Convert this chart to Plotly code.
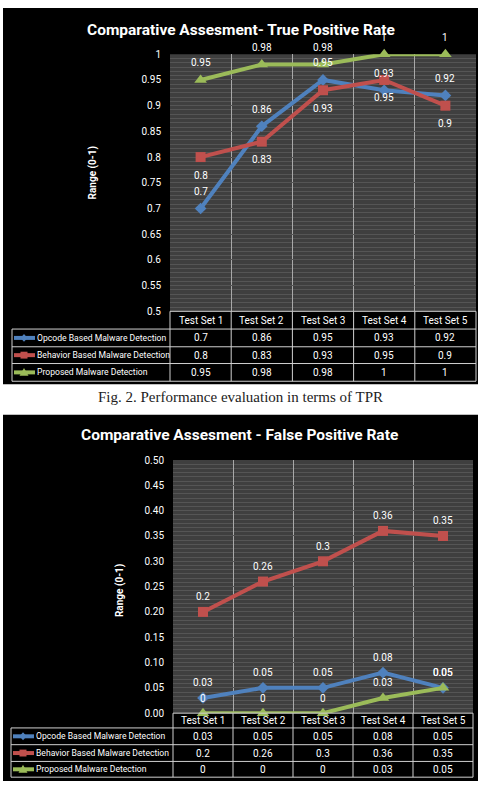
import plotly.graph_objects as go

# ---------------- data ----------------
categories = ["Test Set 1", "Test Set 2", "Test Set 3", "Test Set 4", "Test Set 5"]
series_names = ["Opcode Based Malware Detection",
                "Behavior Based Malware Detection",
                "Proposed Malware Detection"]

tpr_opcode = [0.7, 0.86, 0.95, 0.93, 0.92]
tpr_behavior = [0.8, 0.83, 0.93, 0.95, 0.9]
tpr_proposed = [0.95, 0.98, 0.98, 1, 1]

fpr_opcode = [0.03, 0.05, 0.05, 0.08, 0.05]
fpr_behavior = [0.2, 0.26, 0.3, 0.36, 0.35]
fpr_proposed = [0, 0, 0, 0.03, 0.05]

tpr_tickvals = [0.5, 0.55, 0.6, 0.65, 0.7, 0.75, 0.8, 0.85, 0.9, 0.95, 1]
tpr_ticktext = ["0.5", "0.55", "0.6", "0.65", "0.7", "0.75", "0.8", "0.85", "0.9", "0.95", "1"]
fpr_tickvals = [0, 0.05, 0.1, 0.15, 0.2, 0.25, 0.3, 0.35, 0.4, 0.45, 0.5]
fpr_ticktext = ["0.00", "0.05", "0.10", "0.15", "0.20", "0.25", "0.30", "0.35", "0.40", "0.45", "0.50"]

title_tpr = "Comparative Assesment- True Positive Rate"
title_fpr = "Comparative Assesment - False Positive Rate"
y_title = "Range (0-1)"
caption = "Fig. 2. Performance evaluation in terms of TPR"

# ---------------- styles ----------------
W, H = 481, 795
COLORS = ["#4f81bd", "#c0504d", "#9bbb59"]
SYMBOLS = ["diamond", "square", "triangle-up"]
MSIZES = [9, 10, 11]
FONT = "Roboto, Lato, sans-serif"
PLOT_BG = "#3f3f3f"
STRIPE = "#555555"
VGRID = "#a9a9a9"
TABLE_LINE = "#d0d0d0"


def px(x):
    return x / W


def py(y):
    return 1 - y / H


charts = [
    dict(series=[tpr_opcode, tpr_behavior, tpr_proposed], title=title_tpr,
         tickvals=tpr_tickvals, ticktext=tpr_ticktext, yrange=[0.5, 1],
         box=(3, 2, 478, 384), title_xy=(241, 24), title_size=15.5,
         plot=(170, 49, 476, 310), ytitle_xy=(93, 170),
         header=(310, 328), rows=[328, 346, 363, 381], table_left=12,
         shifts=[17, -18, 17], ax=""),
    dict(series=[fpr_opcode, fpr_behavior, fpr_proposed], title=title_fpr,
         tickvals=fpr_tickvals, ticktext=fpr_ticktext, yrange=[0, 0.5],
         box=(3, 415, 478, 787), title_xy=(239, 436), title_size=15.5,
         plot=(173, 461, 473, 718), ytitle_xy=(120, 594),
         header=(718, 733), rows=[733, 750, 767, 783], table_left=11,
         shifts=[15, 15, 15], ax="2"),
]

fig = go.Figure()
shapes = []
annotations = []


def paper_text(x, y, text, size, color="white", xanchor="center", family=FONT, angle=0):
    annotations.append(dict(x=px(x), y=py(y), xref="paper", yref="paper", text=text,
                            showarrow=False, xanchor=xanchor, yanchor="middle",
                            textangle=angle,
                            font=dict(family=family, size=size, color=color)))


for c in charts:
    ax = c["ax"]
    xref, yref = "x" + ax, "y" + ax
    x0, y0, x1, y1 = c["plot"]

    # backgrounds
    bx0, by0, bx1, by1 = c["box"]
    shapes.append(dict(type="rect", xref="paper", yref="paper", layer="below",
                       x0=px(bx0), x1=px(bx1), y0=py(by1), y1=py(by0),
                       fillcolor="black", line=dict(width=0)))
    shapes.append(dict(type="rect", xref="paper", yref="paper", layer="below",
                       x0=px(x0), x1=px(x1), y0=py(y1), y1=py(y0),
                       fillcolor=PLOT_BG, line=dict(width=0)))

    # traces
    for i, vals in enumerate(c["series"]):
        fig.add_trace(go.Scatter(
            x=categories, y=vals, name=series_names[i], mode="lines+markers",
            line=dict(color=COLORS[i], width=4),
            marker=dict(symbol=SYMBOLS[i], size=MSIZES[i], color=COLORS[i],
                        line=dict(width=0)),
            cliponaxis=False, showlegend=False, xaxis=xref, yaxis=yref))
        for cat, v in zip(categories, vals):
            annotations.append(dict(x=cat, y=v, xref=xref, yref=yref,
                                    text=f"{v:g}", showarrow=False,
                                    xanchor="center", yanchor="middle",
                                    yshift=c["shifts"][i],
                                    font=dict(family=FONT, size=10, color="white")))

    # axes
    fig.update_layout(**{
        "xaxis" + ax: dict(domain=[px(x0), px(x1)], anchor=yref, type="category",
                           range=[-0.5, 4.5], tickson="boundaries", showgrid=True,
                           gridcolor=VGRID, gridwidth=1, showticklabels=False,
                           ticks="", zeroline=False, showline=False, fixedrange=True),
        "yaxis" + ax: dict(domain=[py(y1), py(y0)], anchor=xref, range=c["yrange"],
                           tickmode="array", tickvals=c["tickvals"], ticktext=c["ticktext"],
                           ticks="outside", ticklen=6, tickcolor="black",
                           tickfont=dict(family=FONT, size=10, color="white"),
                           showgrid=True, gridcolor=STRIPE, gridwidth=1,
                           minor=dict(tickmode="linear", tick0=0, dtick=0.05 / 6,
                                      showgrid=True, gridcolor=STRIPE, gridwidth=1),
                           zeroline=False, showline=False, fixedrange=True),
    })

    # title and axis title
    paper_text(c["title_xy"][0], c["title_xy"][1], "<b>" + c["title"] + "</b>", c["title_size"])
    paper_text(c["ytitle_xy"][0], c["ytitle_xy"][1], "<b>" + y_title + "</b>", 10, angle=-90)

    # data table
    h0, h1 = c["header"]
    rows = c["rows"]
    tl = c["table_left"]
    lw = dict(color=TABLE_LINE, width=1)
    shapes.append(dict(type="line", xref="paper", yref="paper", layer="above",
                       x0=px(x0), x1=px(x1), y0=py(h0), y1=py(h0), line=lw))
    for ry in rows:
        shapes.append(dict(type="line", xref="paper", yref="paper", layer="above",
                           x0=px(tl), x1=px(x1), y0=py(ry), y1=py(ry), line=lw))
    shapes.append(dict(type="line", xref="paper", yref="paper", layer="above",
                       x0=px(tl), x1=px(tl), y0=py(rows[0]), y1=py(rows[-1]), line=lw))
    n = len(categories)
    for k in range(n + 1):
        xb = x0 + (x1 - x0) * k / n
        shapes.append(dict(type="line", xref="paper", yref="paper", layer="above",
                           x0=px(xb), x1=px(xb), y0=py(h0), y1=py(rows[-1]), line=lw))
    for cat in categories:
        annotations.append(dict(x=cat, y=py((h0 + h1) / 2), xref=xref, yref="paper",
                                text=cat, showarrow=False, xanchor="center", yanchor="middle",
                                font=dict(family=FONT, size=10, color="white")))
    for i, vals in enumerate(c["series"]):
        ym = (rows[i] + rows[i + 1]) / 2
        # legend key
        shapes.append(dict(type="line", xref="paper", yref="paper", layer="above",
                           x0=px(tl + 2), x1=px(tl + 23), y0=py(ym), y1=py(ym),
                           line=dict(color=COLORS[i], width=4)))
        mx = tl + 12
        if SYMBOLS[i] == "square":
            shapes.append(dict(type="rect", xref="paper", yref="paper", layer="above",
                               x0=px(mx - 3.5), x1=px(mx + 3.5), y0=py(ym + 3.5), y1=py(ym - 3.5),
                               fillcolor=COLORS[i], line=dict(width=0)))
        elif SYMBOLS[i] == "diamond":
            path = (f"M {px(mx)} {py(ym - 4)} L {px(mx + 3.5)} {py(ym)} "
                    f"L {px(mx)} {py(ym + 4)} L {px(mx - 3.5)} {py(ym)} Z")
            shapes.append(dict(type="path", xref="paper", yref="paper", layer="above",
                               path=path, fillcolor=COLORS[i], line=dict(width=0)))
        else:
            path = (f"M {px(mx)} {py(ym - 4.5)} L {px(mx + 4.5)} {py(ym + 3.5)} "
                    f"L {px(mx - 4.5)} {py(ym + 3.5)} Z")
            shapes.append(dict(type="path", xref="paper", yref="paper", layer="above",
                               path=path, fillcolor=COLORS[i], line=dict(width=0)))
        paper_text(tl + 23, ym, series_names[i], 8.6, xanchor="left")
        for cat, v in zip(categories, vals):
            annotations.append(dict(x=cat, y=py(ym), xref=xref, yref="paper",
                                    text=f"{v:g}", showarrow=False,
                                    xanchor="center", yanchor="middle",
                                    font=dict(family=FONT, size=10, color="white")))

paper_text(240, 397, caption, 15, color="#222222",
           family="Liberation Serif, DejaVu Serif, serif")

fig.update_layout(width=W, height=H, margin=dict(l=0, r=0, t=0, b=0),
                  paper_bgcolor="white", plot_bgcolor="rgba(0,0,0,0)",
                  shapes=shapes, annotations=annotations, showlegend=False)

fig.write_html("out.html")
